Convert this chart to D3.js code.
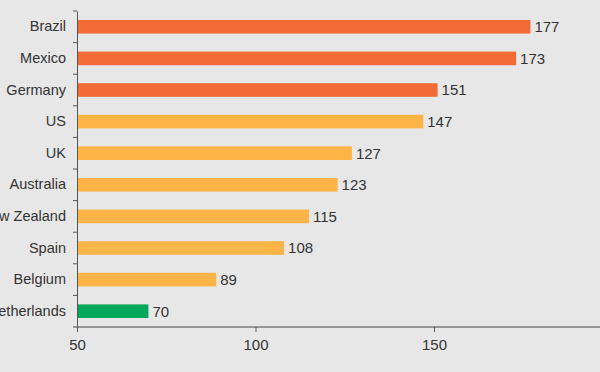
<!DOCTYPE html>
<html>
<head>
<meta charset="utf-8">
<script src="https://cdn.jsdelivr.net/npm/d3@7"></script>
<style>
  html, body { margin: 0; padding: 0; background: #e7e7e7; }
  svg { display: block; font-family: "Liberation Sans", Arial, sans-serif; }
</style>
</head>
<body>
<div id="chart"></div>
<script>
// data
const countries = ["Brazil", "Mexico", "Germany", "US", "UK", "Australia", "New Zealand", "Spain", "Belgium", "Netherlands"];
const values = [177, 173, 151, 147, 127, 123, 115, 108, 89, 70];
const groups = ["top", "top", "top", "mid", "mid", "mid", "mid", "mid", "mid", "low"];
const xTicks = [50, 100, 150];

const width = 600, height = 372;
const margin = { top: 11, left: 77, bottom: 45 };

const color = d3.scaleOrdinal()
    .domain(["top", "mid", "low"])
    .range(["#f26a36", "#fbb445", "#00a85a"]);

const svg = d3.select("#chart").append("svg")
    .attr("width", width)
    .attr("height", height);

svg.append("rect")
    .attr("width", width)
    .attr("height", height)
    .attr("fill", "#e7e7e7");

// x scale runs past the right edge (the picture is cropped there)
const x = d3.scaleLinear()
    .domain([50, 200])
    .range([margin.left, margin.left + 150 * 3.57]);

const y = d3.scaleBand()
    .domain(countries)
    .range([margin.top, height - margin.bottom])
    .paddingInner(0.57)
    .paddingOuter(0.285);

// bars
svg.selectAll(".bar")
    .data(countries)
    .enter().append("rect")
    .attr("class", "bar")
    .attr("x", x(50))
    .attr("y", (d) => y(d))
    .attr("width", (d, i) => x(values[i]) - x(50))
    .attr("height", y.bandwidth())
    .attr("fill", (d, i) => color(groups[i]));

// value labels
svg.selectAll(".val")
    .data(countries)
    .enter().append("text")
    .attr("class", "val")
    .attr("x", (d, i) => x(values[i]) + 4)
    .attr("y", (d) => y(d) + y.bandwidth() / 2)
    .attr("dy", "0.36em")
    .attr("font-size", 15)
    .attr("fill", "#333")
    .text((d, i) => values[i]);

// y axis: labels at band centres, ticks at band edges
// (the two long names are cut at the left edge, as in the original)
const yAxis = svg.append("g")
    .attr("transform", "translate(" + margin.left + ",0)")
    .call(d3.axisLeft(y).tickSize(0).tickPadding(11));
yAxis.select(".domain").attr("stroke", "#555");
yAxis.selectAll("text")
    .attr("font-size", 14.5)
    .attr("fill", "#333")
    .attr("font-family", "Liberation Sans, Arial, sans-serif");

const edges = d3.range(countries.length).map((i) => y.range()[0] + i * y.step());
svg.selectAll(".ytick")
    .data(edges)
    .enter().append("line")
    .attr("class", "ytick")
    .attr("x1", margin.left - 4)
    .attr("x2", margin.left)
    .attr("y1", (d) => d)
    .attr("y2", (d) => d)
    .attr("stroke", "#555");

// x axis
const axisY = height - margin.bottom;
svg.append("line")
    .attr("x1", margin.left - 4)
    .attr("x2", width)
    .attr("y1", axisY)
    .attr("y2", axisY)
    .attr("stroke", "#7a7a7a")
    .attr("stroke-width", 1.6);

const xAxis = svg.append("g")
    .attr("transform", "translate(0," + axisY + ")")
    .call(d3.axisBottom(x).tickValues(xTicks).tickSize(5).tickSizeOuter(0).tickPadding(7));
xAxis.select(".domain").remove();
xAxis.selectAll("line").attr("stroke", "#555");
xAxis.selectAll("text")
    .attr("font-size", 15)
    .attr("fill", "#333")
    .attr("font-family", "Liberation Sans, Arial, sans-serif");
</script>
</body>
</html>
